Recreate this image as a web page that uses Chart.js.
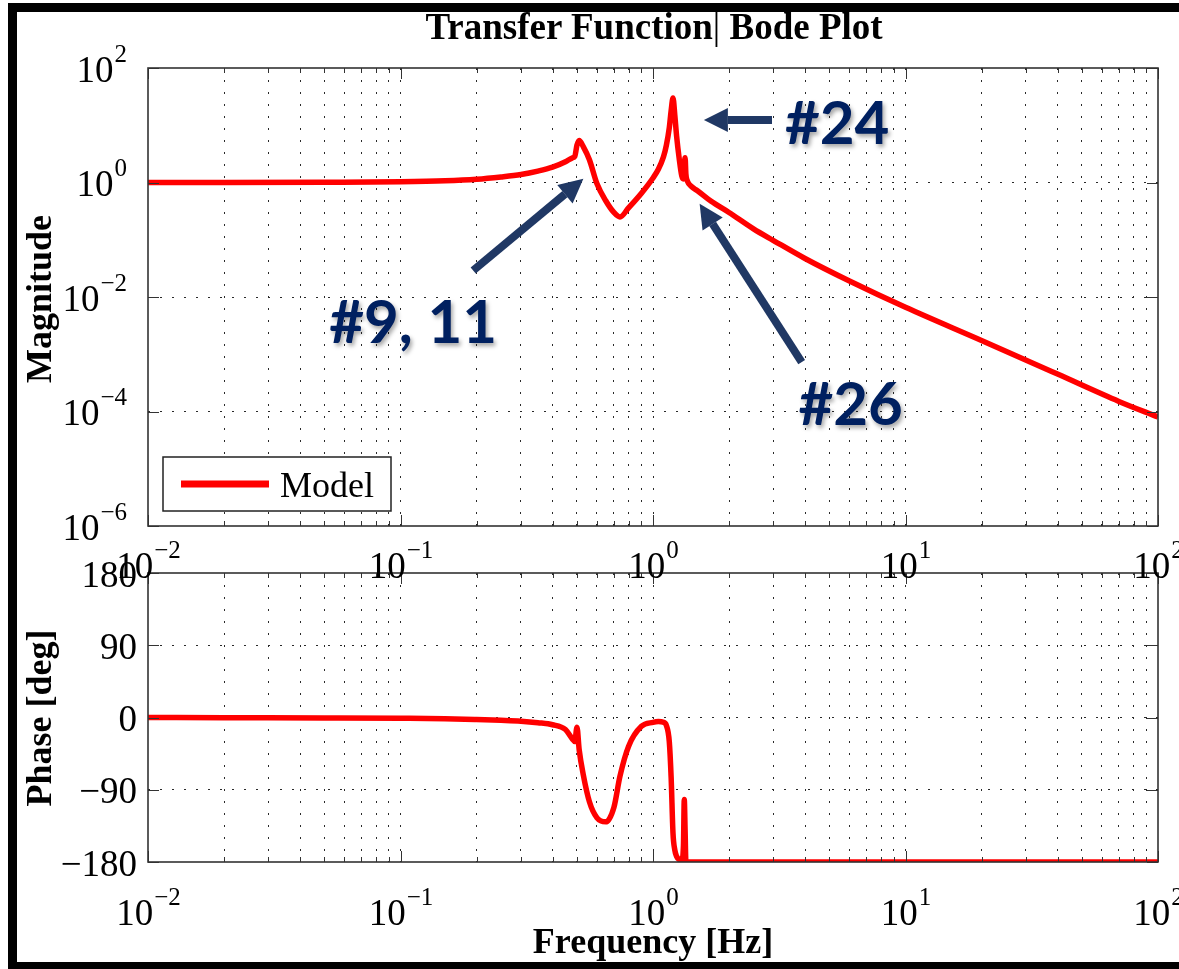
<!DOCTYPE html>
<html>
<head>
<meta charset="utf-8">
<script src="https://cdn.jsdelivr.net/npm/chart.js@4.4.1/dist/chart.umd.min.js"></script>
<style>
  html, body { margin: 0; padding: 0; background: #fff; overflow: hidden; }
  #page { position: relative; width: 1179px; height: 969px; overflow: hidden; }
  #frame { position: absolute; left: 8px; top: 3px; width: 1400px; height: 968px; box-sizing: border-box;
           border-left: 9px solid #000; border-top: 9px solid #000; border-bottom: 9px solid #000; z-index: 0; }
  canvas { position: absolute; left: 0; top: 0; }
  #phaseCanvas { z-index: 1; }
  #magCanvas { z-index: 2; }
  .txt { position: absolute; z-index: 3; font-family: "Liberation Serif", "DejaVu Serif", serif; font-weight: bold;
         font-size: 36px; line-height: 36px; white-space: nowrap; color: #000; }
  .rot { transform: translate(-50%, -50%) rotate(-90deg); }
</style>
</head>
<body>
<div id="page">
  <div id="frame"></div>
  <canvas id="phaseCanvas" width="1179" height="969"></canvas>
  <canvas id="magCanvas" width="1179" height="969"></canvas>
  <div class="txt" style="left:654px; top:8px; font-size:37px; line-height:37px; transform:translateX(-50%);">Transfer Function<span style="font-weight:normal">|</span> Bode Plot</div>
  <div class="txt rot" style="left:39px; top:299px;">Magnitude</div>
  <div class="txt rot" style="left:39px; top:718px;">Phase [deg]</div>
  <div class="txt" style="left:653px; top:923px; transform:translateX(-50%);">Frequency [Hz]</div>
</div>
<script>
// Frequency axis (Hz) and model response
var freqHz = [0.01, 0.02, 0.05, 0.1, 0.15, 0.2, 0.25, 0.3, 0.35, 0.4, 0.45, 0.48, 0.49, 0.5, 0.51, 0.53, 0.56, 0.6, 0.65, 0.7,
              0.74, 0.8, 0.9, 1.0, 1.05, 1.1, 1.13, 1.16, 1.18, 1.2, 1.22, 1.24, 1.27, 1.3, 1.32, 1.33, 1.34, 1.35, 1.37, 1.42,
              1.5, 1.7, 2, 2.5, 3, 4, 6, 10, 20, 40, 70, 100];
var magnitude = [1.0, 1.0, 1.01, 1.03, 1.07, 1.14, 1.25, 1.38, 1.58, 1.85, 2.3, 2.7, 2.85, 4.5, 5.4, 4.2, 2.5, 0.95, 0.48, 0.3,
                 0.25, 0.36, 0.65, 1.2, 1.7, 2.8, 4.5, 9, 18, 30, 15, 6.5, 2.6, 1.3, 1.15, 2.0, 2.7, 1.4, 1.05, 0.85,
                 0.72, 0.47, 0.3, 0.155, 0.097, 0.047, 0.019, 0.0066, 0.00174, 0.00045, 0.00015, 0.00008];
var phaseDeg = [0, -0.3, -0.6, -1, -1.5, -2.5, -3.5, -4.6, -6.5, -9, -15, -27, -30, -12, -40, -72, -105, -125, -130, -112,
                -73, -36, -11, -6, -5, -6, -10, -30, -75, -144, -165, -173, -177, -178, -160, -102, -140, -180, -180, -180,
                -180, -180, -180, -180, -180, -180, -180, -180, -180, -180, -180, -180];
var seriesLabel = 'Model';

// tick labels
var xTickValues = [0.01, 0.1, 1, 10, 100];
var magTickValues = [1e-6, 1e-4, 1e-2, 1, 1e2];
var phaseTickValues = [-180, -90, 0, 90, 180];
var phaseTickLabels = ['\u2212180', '\u221290', '0', '90', '180'];

// annotations (arrow tip / tail in data units)
var noteLabels = ['#24', '#9, 11', '#26'];
var noteTipHz = [1.59, 0.53, 1.53];
var noteTipMag = [12.4, 1.16, 0.425];
var noteTailHz = [2.96, 0.194, 3.88];
var noteTailMag = [12.4, 0.029, 0.00073];

// minor ticks 2..9 for each decade
var xAllTicks = [];
xTickValues.forEach(function(v, i) {
    xAllTicks.push(v);
    if (i < xTickValues.length - 1) for (var k = 2; k <= 9; k++) xAllTicks.push(v * k);
});

var SERIF = '"Liberation Serif", "DejaVu Serif", serif';
var RED = '#ff0000';

function gridColor(min, max) {
    return function(ctx) {
        if (!ctx.tick) return 'rgba(0,0,0,0)';
        var v = ctx.tick.value;
        if (Math.abs(v - min) < 1e-12 || Math.abs(v - max) < 1e-9) return 'rgba(0,0,0,0)';
        return '#2a2a2a';
    };
}

function drawPow(ctx, exp, x, baseY, align) {
    var expTxt = exp < 0 ? '\u2212' + (-exp) : String(exp);
    ctx.font = '37px ' + SERIF;
    var wB = ctx.measureText('10').width;
    ctx.font = '25px ' + SERIF;
    var wE = ctx.measureText(expTxt).width;
    var left = align === 'center' ? x - (wB + wE) / 2 : x - (wB + wE);
    ctx.textAlign = 'left';
    ctx.textBaseline = 'alphabetic';
    ctx.fillStyle = '#000';
    ctx.font = '37px ' + SERIF;
    ctx.fillText('10', left, baseY);
    ctx.font = '25px ' + SERIF;
    ctx.fillText(expTxt, left + wB + 1, baseY - 20);
}

function drawFrameAndTicks(chart) {
    var ctx = chart.ctx, a = chart.chartArea, xs = chart.scales.x, ys = chart.scales.y;
    ctx.save();
    ctx.strokeStyle = '#333';
    ctx.lineWidth = 1;
    ctx.beginPath();
    xAllTicks.forEach(function(v) {
        var px = Math.round(xs.getPixelForValue(v)) + 0.5;
        var len = xTickValues.indexOf(v) >= 0 ? 11 : 5;
        ctx.moveTo(px, a.top); ctx.lineTo(px, a.top + len);
        ctx.moveTo(px, a.bottom); ctx.lineTo(px, a.bottom - len);
    });
    ys.ticks.forEach(function(t) {
        var py = Math.round(ys.getPixelForValue(t.value)) + 0.5;
        ctx.moveTo(a.left, py); ctx.lineTo(a.left + 11, py);
        ctx.moveTo(a.right, py); ctx.lineTo(a.right - 11, py);
    });
    ctx.stroke();
    ctx.lineWidth = 1.6;
    ctx.strokeRect(a.left, a.top, a.right - a.left, a.bottom - a.top);
    ctx.restore();
}

function drawArrow(ctx, x1, y1, x2, y2) {
    var ang = Math.atan2(y2 - y1, x2 - x1);
    var head = 24, half = 12;
    var bx = x2 - head * Math.cos(ang), by = y2 - head * Math.sin(ang);
    ctx.beginPath();
    ctx.moveTo(x1, y1);
    ctx.lineTo(bx, by);
    ctx.lineWidth = 8;
    ctx.stroke();
    ctx.beginPath();
    ctx.moveTo(x2, y2);
    ctx.lineTo(bx + half * Math.sin(ang), by - half * Math.cos(ang));
    ctx.lineTo(bx - half * Math.sin(ang), by + half * Math.cos(ang));
    ctx.closePath();
    ctx.fill();
}

var magPlugin = {
    id: 'magPanel',
    afterDraw: function(chart) {
        var ctx = chart.ctx, xs = chart.scales.x, ys = chart.scales.y;
        drawFrameAndTicks(chart);
        // tick labels
        xTickValues.forEach(function(v) {
            drawPow(ctx, Math.round(Math.log10(v)), xs.getPixelForValue(v), 578, 'center');
        });
        magTickValues.forEach(function(v) {
            drawPow(ctx, Math.round(Math.log10(v)), 126, ys.getPixelForValue(v) + 13.5, 'right');
        });
        // legend
        var ds = chart.data.datasets[0];
        ctx.save();
        ctx.fillStyle = '#fff';
        ctx.fillRect(163, 457, 228, 54);
        ctx.strokeStyle = '#222';
        ctx.lineWidth = 1.5;
        ctx.strokeRect(163, 457, 228, 54);
        ctx.strokeStyle = ds.borderColor;
        ctx.lineWidth = 7;
        ctx.beginPath(); ctx.moveTo(181, 484); ctx.lineTo(269, 484); ctx.stroke();
        ctx.fillStyle = '#000';
        ctx.font = '36px ' + SERIF;
        ctx.textAlign = 'left';
        ctx.textBaseline = 'alphabetic';
        ctx.fillText(ds.label, 280, 497);
        ctx.restore();
        // arrows and notes
        ctx.save();
        ctx.strokeStyle = '#203864';
        ctx.fillStyle = '#203864';
        ctx.lineCap = 'butt';
        var tails = [];
        noteLabels.forEach(function(lbl, i) {
            var tx = xs.getPixelForValue(noteTailHz[i]), ty = ys.getPixelForValue(noteTailMag[i]);
            var hx = xs.getPixelForValue(noteTipHz[i]), hy = ys.getPixelForValue(noteTipMag[i]);
            drawArrow(ctx, tx, ty, hx, hy);
            tails.push([tx, ty]);
        });
        ctx.font = 'bold 60px Lato, "Open Sans", sans-serif';
        ctx.textBaseline = 'alphabetic';
        ctx.fillStyle = '#002060';
        ctx.shadowColor = 'rgba(0,0,0,0.35)';
        ctx.shadowOffsetX = 2;
        ctx.shadowOffsetY = 3;
        ctx.shadowBlur = 4;
        ctx.textAlign = 'left';
        ctx.fillText(noteLabels[0], tails[0][0] + 13, tails[0][1] + 24);
        ctx.textAlign = 'center';
        ctx.fillText(noteLabels[1], tails[1][0] - 60, tails[1][1] + 72);
        ctx.fillText(noteLabels[2], tails[2][0] + 49, tails[2][1] + 63);
        ctx.restore();
    }
};

var phasePlugin = {
    id: 'phasePanel',
    afterDraw: function(chart) {
        var ctx = chart.ctx, xs = chart.scales.x, ys = chart.scales.y;
        drawFrameAndTicks(chart);
        xTickValues.forEach(function(v) {
            drawPow(ctx, Math.round(Math.log10(v)), xs.getPixelForValue(v), 925, 'center');
        });
        ctx.save();
        ctx.fillStyle = '#000';
        ctx.font = '37px ' + SERIF;
        ctx.textAlign = 'right';
        ctx.textBaseline = 'alphabetic';
        phaseTickValues.forEach(function(v, i) {
            ctx.fillText(phaseTickLabels[i], 137, ys.getPixelForValue(v) + 13.5);
        });
        ctx.restore();
    }
};

function xScale() {
    return {
        type: 'logarithmic', min: 0.01, max: 100,
        afterBuildTicks: function(s) { s.ticks = xAllTicks.map(function(v) { return {value: v}; }); },
        afterFit: function(s) { s.height = 80; },
        ticks: { display: false },
        grid: { color: gridColor(0.01, 100), lineWidth: 1, drawTicks: false },
        border: { display: false, dash: [2, 10] }
    };
}

var magPoints = freqHz.map(function(f, i) { return {x: f, y: magnitude[i]}; });
var phasePoints = freqHz.map(function(f, i) { return {x: f, y: phaseDeg[i]}; });

var magChart = new Chart(document.getElementById('magCanvas'), {
    type: 'line',
    data: {
        datasets: [{
            label: seriesLabel,
            data: magPoints,
            borderColor: RED,
            borderWidth: 5.5,
            pointRadius: 0,
            cubicInterpolationMode: 'monotone'
        }]
    },
    options: {
        responsive: false,
        animation: false,
        layout: { padding: { left: 0, right: 21, top: 68, bottom: 363 } },
        plugins: { legend: { display: false }, tooltip: { enabled: false } },
        scales: {
            x: xScale(),
            y: {
                type: 'logarithmic', min: 1e-6, max: 100,
                afterBuildTicks: function(s) { s.ticks = magTickValues.map(function(v) { return {value: v}; }); },
                afterFit: function(s) { s.width = 148; },
                ticks: { display: false },
                grid: { color: gridColor(1e-6, 100), lineWidth: 1, drawTicks: false },
                border: { display: false, dash: [2, 10] }
            }
        }
    },
    plugins: [magPlugin]
});

var phaseChart = new Chart(document.getElementById('phaseCanvas'), {
    type: 'line',
    data: {
        datasets: [{
            label: seriesLabel,
            data: phasePoints,
            borderColor: RED,
            borderWidth: 5.5,
            pointRadius: 0,
            cubicInterpolationMode: 'monotone'
        }]
    },
    options: {
        responsive: false,
        animation: false,
        layout: { padding: { left: 0, right: 21, top: 573, bottom: 27 } },
        plugins: { legend: { display: false }, tooltip: { enabled: false } },
        scales: {
            x: xScale(),
            y: {
                type: 'linear', min: -180, max: 180,
                afterBuildTicks: function(s) { s.ticks = phaseTickValues.map(function(v) { return {value: v}; }); },
                afterFit: function(s) { s.width = 148; },
                ticks: { display: false },
                grid: { color: gridColor(-180, 180), lineWidth: 1, drawTicks: false },
                border: { display: false, dash: [2, 10] }
            }
        }
    },
    plugins: [phasePlugin]
});
</script>
</body>
</html>
